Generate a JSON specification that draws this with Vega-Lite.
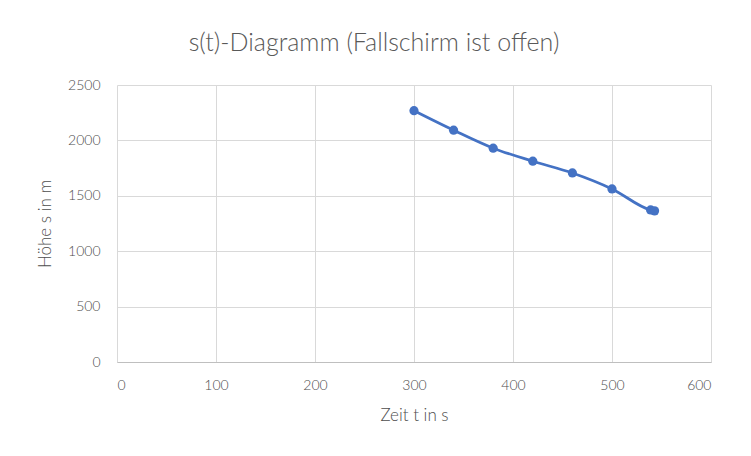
{
  "$schema": "https://vega.github.io/schema/vega-lite/v6.json",
  "autosize": "none",
  "width": 594,
  "height": 277,
  "padding": {"left": 117, "top": 85, "right": 40, "bottom": 94},
  "background": "white",
  "title": {
    "text": "s(t)-Diagramm (Fallschirm ist offen)",
    "anchor": "middle",
    "dx": -40,
    "offset": 22,
    "fontSize": 25,
    "font": "Lato",
    "fontWeight": 300,
    "color": "#595959"
  },
  "config": {
    "view": {"stroke": null},
    "font": "Lato",
    "axis": {
      "labelFont": "Lato",
      "labelFontSize": 14,
      "labelFontWeight": 300,
      "labelColor": "#4d4d4d",
      "titleFont": "Lato",
      "titleFontSize": 17,
      "titleFontWeight": 300,
      "titleColor": "#4d4d4d",
      "gridColor": "#d9d9d9",
      "gridWidth": 1,
      "ticks": false
    }
  },
  "data": {
    "values": [
      {"t": 300, "s": 2268},
      {"t": 340, "s": 2092},
      {"t": 380, "s": 1930},
      {"t": 420, "s": 1812},
      {"t": 460, "s": 1706},
      {"t": 500, "s": 1562},
      {"t": 539, "s": 1372},
      {"t": 543, "s": 1364}
    ]
  },
  "encoding": {
    "x": {
      "field": "t",
      "type": "quantitative",
      "title": "Zeit t in s",
      "scale": {"domain": [0, 600], "nice": false},
      "axis": {
        "values": [0, 100, 200, 300, 400, 500, 600],
        "format": "d",
        "domainColor": "#bfbfbf",
        "labelPadding": 16,
        "titlePadding": 15
      }
    },
    "y": {
      "field": "s",
      "type": "quantitative",
      "title": "Höhe s in m",
      "scale": {"domain": [0, 2500], "nice": false},
      "axis": {
        "values": [0, 500, 1000, 1500, 2000, 2500],
        "format": "d",
        "domain": false,
        "labelPadding": 17,
        "titlePadding": 13
      }
    }
  },
  "layer": [
    {
      "mark": {"type": "line", "interpolate": "monotone", "color": "#4472c4", "strokeWidth": 2.75}
    },
    {
      "mark": {"type": "point", "filled": true, "opacity": 1, "color": "#4472c4", "size": 85}
    }
  ]
}
